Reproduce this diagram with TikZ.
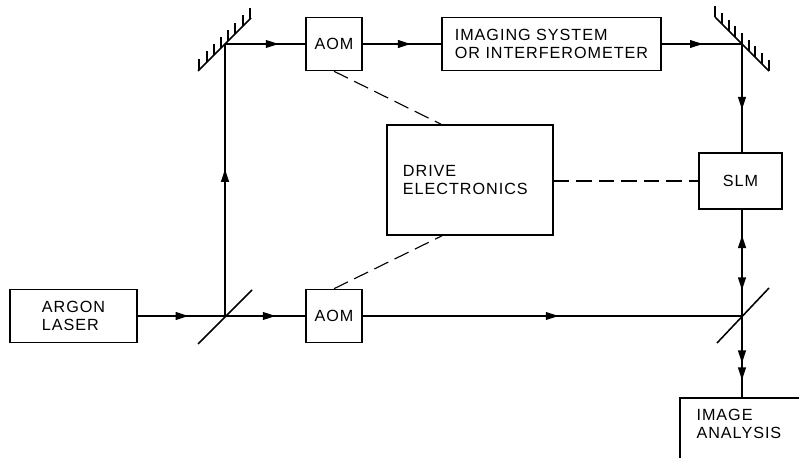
\documentclass[tikz,border=0pt]{standalone}
\usepackage{fontspec}
\setmainfont[LetterSpace=6]{Liberation Sans}
\usetikzlibrary{arrows.meta, decorations.markings}
\tikzset{
    optbox/.style={draw, line width=1.1pt, align=left, font=\fontsize{11.5}{13.1}\selectfont},
    beam/.style={line width=0.8pt},
    thickbeam/.style={line width=1.1pt},
    dashline/.style={line width=0.8pt, dash pattern=on 11pt off 5pt},
    glass/.style={line width=1.1pt},
    beamtip/.style={postaction={decorate}, decoration={markings,
        mark=at position #1 with {\arrow{Triangle[length=9pt,width=5.6pt]}}}},
    twotips/.style 2 args={postaction={decorate}, decoration={markings,
        mark=at position #1 with {\arrow{Triangle[length=9pt,width=5.6pt]}},
        mark=at position #2 with {\arrow{Triangle[length=9pt,width=5.6pt]}}}},
}
\begin{document}
\begin{tikzpicture}[x=0.025cm, y=-0.025cm]
    \path[use as bounding box, clip] (0,0) rectangle (799,458);

    \node[optbox, minimum width=3.175cm, minimum height=1.325cm] (laser) at (73.5,316) {ARGON\\LASER};
    \node[optbox, minimum width=1.4cm, minimum height=1.325cm] (aomtop) at (334,44) {AOM};
    \node[optbox, minimum width=1.4cm, minimum height=1.325cm] (aombot) at (334,316) {AOM};
    \node[optbox, minimum width=5.475cm, minimum height=1.325cm] (imaging) at (551.5,44) {IMAGING SYSTEM\\OR INTERFEROMETER};
    \node[optbox, text width=3.35cm, inner xsep=0.4cm, minimum height=2.75cm] (drive) at (470,180) {DRIVE\\ELECTRONICS};
    \node[optbox, minimum width=2.075cm, minimum height=1.4cm] (slm) at (740.5,181) {SLM};
    \node[optbox, anchor=north west, text width=3.2cm, inner xsep=0.42cm, inner ysep=0.28cm]
        (analysis) at (679,397) {IMAGE\\ANALYSIS\\~\\~};

    \coordinate (mirrorA) at (225,44);
    \coordinate (mirrorB) at (742,44);
    \coordinate (splitA) at (225,316);
    \coordinate (splitB) at (742,316);
    \coordinate (midbeam) at (742,262);

    % mirrors
    \draw[glass] ([shift={(-27,27)}]mirrorA) -- ([shift={(26,-26)}]mirrorA);
    \foreach \d in {-26,-18,-11,-4,3,10,18,25}
        \draw[beam] ([shift={(\d,-\d)}]mirrorA) -- ++(0,-11);
    \draw[glass] ([shift={(-27,-27)}]mirrorB) -- ([shift={(27,27)}]mirrorB);
    \foreach \d in {-27,-20,-13,-7,0,7,13,20,27}
        \draw[beam] ([shift={(\d,\d)}]mirrorB) -- ++(0,-11);

    % beam splitters
    \draw[glass] ([shift={(-27,28)}]splitA) -- ([shift={(27,-26)}]splitA);
    \draw[glass] ([shift={(-25,27)}]splitB) -- ([shift={(27,-28)}]splitB);

    % beams
    \draw[beam, beamtip=0.58] (laser.east) -- (splitA);
    \draw[beam, beamtip=0.63] (splitA) -- (aombot.west);
    \draw[beam, beamtip=0.54] (splitA) -- (mirrorA);
    \draw[beam, beamtip=0.667] (mirrorA) -- (aomtop.west);
    \draw[beam, beamtip=0.61] (aomtop.east) -- (imaging.west);
    \draw[beam, beamtip=0.51] (imaging.east) -- (mirrorB);
    \draw[thickbeam, beamtip=0.605] (mirrorB) -- (slm.north -| mirrorB);
    \draw[beam, beamtip=0.516] (aombot.east) -- (splitB);
    \draw[thickbeam, beamtip=0.51] (midbeam) -- (slm.south -| midbeam);
    \draw[thickbeam, beamtip=0.52] (midbeam) -- (splitB);
    \draw[thickbeam, twotips={0.58}{0.79}] (splitB) -- (analysis.north -| splitB);

    % drive lines
    \draw[dashline] (aomtop.south) -- (drive.north -| 441,126);
    \draw[dashline] (aombot.north) -- (drive.south -| 442,235);
    \draw[dashline] (drive.east |- slm) -- (slm.west);
\end{tikzpicture}
\end{document}
